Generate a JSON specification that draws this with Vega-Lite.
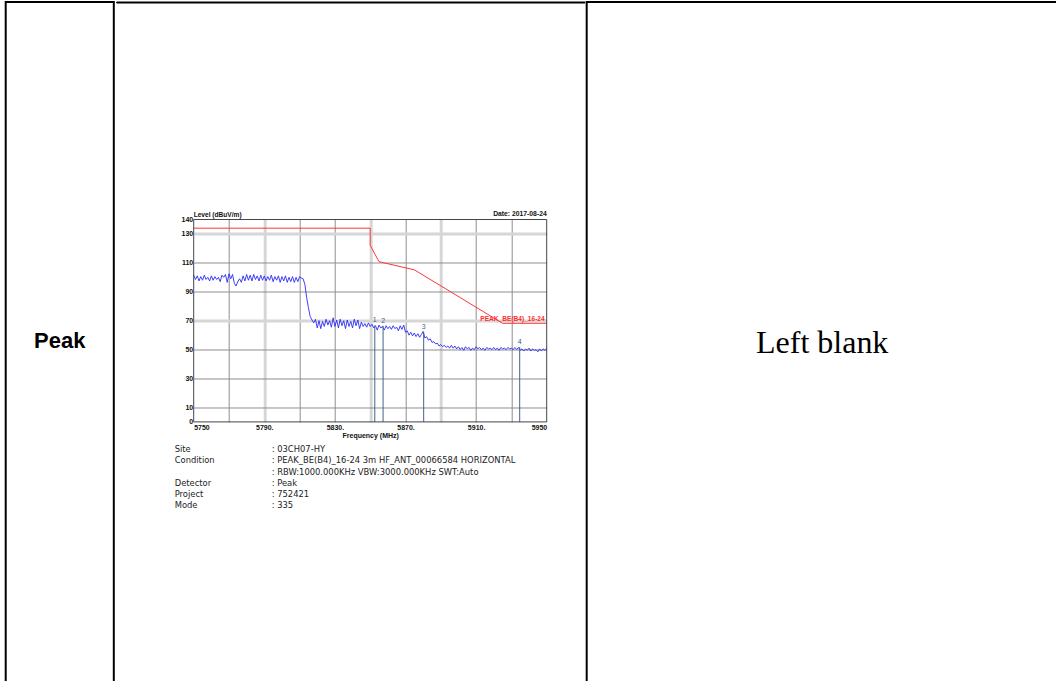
{
  "$schema": "https://vega.github.io/schema/vega-lite/v6.json",
  "padding": {"left": 4.7, "top": 1, "right": 0, "bottom": 0},
  "background": "white",
  "spacing": 0,
  "config": {
    "view": {"stroke": null},
    "concat": {"spacing": 0}
  },
  "datasets": {
    "trace": [
      {"f":5750,"l":101.5},{"f":5751,"l":98.5},{"f":5752,"l":101},{"f":5753,"l":97.5},{"f":5754,"l":100.5},{"f":5755,"l":98},{"f":5756,"l":101.5},{"f":5757,"l":98.5},{"f":5758,"l":100},{"f":5759,"l":97.5},
      {"f":5760,"l":101},{"f":5761,"l":98},{"f":5762,"l":100.5},{"f":5763,"l":98.5},{"f":5764,"l":100},{"f":5765,"l":97},{"f":5766,"l":101.5},{"f":5767,"l":100},{"f":5768,"l":102},{"f":5769,"l":96.5},
      {"f":5770,"l":102.5},{"f":5771,"l":99},{"f":5772,"l":102},{"f":5773,"l":96},{"f":5774,"l":94},{"f":5775,"l":97},{"f":5776,"l":99},{"f":5777,"l":96.5},{"f":5778,"l":101},{"f":5779,"l":97.5},
      {"f":5780,"l":102},{"f":5781,"l":98},{"f":5782,"l":101.5},{"f":5783,"l":97.5},{"f":5784,"l":102},{"f":5785,"l":98.5},{"f":5786,"l":101},{"f":5787,"l":97.5},{"f":5788,"l":101.5},{"f":5789,"l":98},
      {"f":5790,"l":101},{"f":5791,"l":97.5},{"f":5792,"l":100.5},{"f":5793,"l":98},{"f":5794,"l":101.5},{"f":5795,"l":97},{"f":5796,"l":100.5},{"f":5797,"l":98},{"f":5798,"l":101},{"f":5799,"l":96.5},
      {"f":5800,"l":100.5},{"f":5801,"l":97.5},{"f":5802,"l":101},{"f":5803,"l":96.5},{"f":5804,"l":100},{"f":5805,"l":97},{"f":5806,"l":100.5},{"f":5807,"l":96.5},{"f":5808,"l":100},{"f":5809,"l":97},
      {"f":5810,"l":100.5},{"f":5811,"l":99.5},{"f":5812,"l":99},{"f":5813,"l":95},{"f":5814,"l":86},{"f":5815,"l":79},{"f":5816,"l":73},{"f":5817,"l":70.5},{"f":5818,"l":68.5},{"f":5819,"l":71},
      {"f":5820,"l":65},{"f":5821,"l":70},{"f":5822,"l":64.5},{"f":5823,"l":69.5},{"f":5824,"l":66},{"f":5825,"l":71},{"f":5826,"l":67},{"f":5827,"l":70},{"f":5828,"l":65.5},{"f":5829,"l":72},
      {"f":5830,"l":66},{"f":5831,"l":70.5},{"f":5832,"l":65},{"f":5833,"l":71},{"f":5834,"l":66.5},{"f":5835,"l":70},{"f":5836,"l":64.5},{"f":5837,"l":70.5},{"f":5838,"l":66},{"f":5839,"l":69.5},
      {"f":5840,"l":65},{"f":5841,"l":71},{"f":5842,"l":66.5},{"f":5843,"l":70.5},{"f":5844,"l":64.5},{"f":5845,"l":69},{"f":5846,"l":66},{"f":5847,"l":68},{"f":5848,"l":65.5},{"f":5849,"l":68.5},
      {"f":5850,"l":66},{"f":5851,"l":67.5},{"f":5852,"l":65},{"f":5853,"l":66.5},{"f":5854,"l":63.5},{"f":5855,"l":67},{"f":5856,"l":65},{"f":5857,"l":66},{"f":5858,"l":63.5},{"f":5859,"l":66.5},
      {"f":5860,"l":64.5},{"f":5861,"l":66},{"f":5862,"l":64},{"f":5863,"l":66.5},{"f":5864,"l":64.5},{"f":5865,"l":65.5},{"f":5866,"l":63},{"f":5867,"l":66.5},{"f":5868,"l":64},{"f":5869,"l":67},
      {"f":5870,"l":62},{"f":5871,"l":63},{"f":5872,"l":60},{"f":5873,"l":62},{"f":5874,"l":59.5},{"f":5875,"l":61.5},{"f":5876,"l":59},{"f":5877,"l":61},{"f":5878,"l":58.5},{"f":5879,"l":60.5},
      {"f":5880,"l":62.5},{"f":5881,"l":58},{"f":5882,"l":59},{"f":5883,"l":56.5},{"f":5884,"l":57.5},{"f":5885,"l":55},{"f":5886,"l":55.5},{"f":5887,"l":54},{"f":5888,"l":54.5},{"f":5889,"l":52.5},
      {"f":5890,"l":53.5},{"f":5891,"l":52},{"f":5892,"l":53},{"f":5893,"l":51.5},{"f":5894,"l":52.5},{"f":5895,"l":51},{"f":5896,"l":53},{"f":5897,"l":51},{"f":5898,"l":52.5},{"f":5899,"l":50.5},
      {"f":5900,"l":52},{"f":5901,"l":50},{"f":5902,"l":51.5},{"f":5903,"l":49.5},{"f":5904,"l":52},{"f":5905,"l":50.5},{"f":5906,"l":51.5},{"f":5907,"l":49.5},{"f":5908,"l":51},{"f":5909,"l":50},
      {"f":5910,"l":52},{"f":5911,"l":50.5},{"f":5912,"l":51.5},{"f":5913,"l":50},{"f":5914,"l":51},{"f":5915,"l":49.5},{"f":5916,"l":51.5},{"f":5917,"l":50.5},{"f":5918,"l":51},{"f":5919,"l":50},
      {"f":5920,"l":51.5},{"f":5921,"l":50},{"f":5922,"l":51},{"f":5923,"l":49.5},{"f":5924,"l":51.5},{"f":5925,"l":50.5},{"f":5926,"l":51},{"f":5927,"l":50},{"f":5928,"l":51.5},{"f":5929,"l":50.5},
      {"f":5930,"l":51},{"f":5931,"l":50},{"f":5932,"l":51.5},{"f":5933,"l":50},{"f":5934,"l":51.5},{"f":5935,"l":49.5},{"f":5936,"l":50.5},{"f":5937,"l":49},{"f":5938,"l":50.5},{"f":5939,"l":49.5},
      {"f":5940,"l":51},{"f":5941,"l":49},{"f":5942,"l":50.5},{"f":5943,"l":49.5},{"f":5944,"l":50},{"f":5945,"l":48.5},{"f":5946,"l":50.5},{"f":5947,"l":49},{"f":5948,"l":50.5},{"f":5949,"l":49.5},
      {"f":5950,"l":51}
    ],
    "limit": [
      {"pt":1,"f":5750,"l":134},{"pt":2,"f":5850,"l":134},{"pt":3,"f":5850,"l":122.2},{"pt":4,"f":5855,"l":110.8},{"pt":5,"f":5875,"l":105.2},{"pt":6,"f":5925,"l":68.2},{"pt":7,"f":5950,"l":68.2,"name":"PEAK_BE(B4)_16-24"}
    ],
    "markers": [
      {"m":"1","f":5852.6,"l":66.8},{"m":"2","f":5857.3,"l":66.5},{"m":"3","f":5880.3,"l":62.3},{"m":"4","f":5934.7,"l":51.8}
    ],
    "info": [
      {"line":1,"label":"Site","value":": 03CH07-HY"},
      {"line":2,"label":"Condition","value":": PEAK_BE(B4)_16-24 3m HF_ANT_00066584 HORIZONTAL"},
      {"line":3,"label":"","value":": RBW:1000.000KHz VBW:3000.000KHz SWT:Auto"},
      {"line":4,"label":"Detector","value":": Peak"},
      {"line":5,"label":"Project","value":": 752421"},
      {"line":6,"label":"Mode","value":": 335"}
    ]
  },
  "hconcat": [
    {
      "width": 108.1,
      "height": 690,
      "data": {"values": [{"t": "Peak"}]},
      "layer": [
        {
          "mark": {"type": "rect", "fillOpacity": 0, "stroke": "black", "strokeWidth": 2},
          "encoding": {}
        },
        {
          "mark": {"type": "text", "font": "Liberation Sans", "fontWeight": "bold", "fontSize": 22, "baseline": "alphabetic", "dy": 1, "color": "black"},
          "encoding": {"text": {"field": "t", "type": "nominal"}}
        }
      ]
    },
    {
      "spacing": 206.5,
      "vconcat": [
        {
          "width": 468.2,
          "height": 1,
          "data": {"values": [{}]},
          "mark": {"type": "rect", "fill": "black", "stroke": "black", "strokeWidth": 1},
          "encoding": {}
        },
        {
          "spacing": 5.7,
          "vconcat": [
            {
              "spacing": 0,
              "hconcat": [
                {
                  "width": 63.3,
                  "height": 1,
                  "data": {"values": []},
                  "mark": {"type": "text"},
                  "encoding": {"text": {"value": ""}}
                },
                {
                  "width": 353,
                  "height": 202.4,
                  "layer": [
                    {
                      "data": {"name": "trace"},
                      "mark": {"type": "line", "color": "#2b2bf5", "strokeWidth": 0.9, "interpolate": "linear"},
                      "encoding": {
                        "x": {
                          "field": "f", "type": "quantitative",
                          "scale": {"domain": [5750, 5950], "nice": false, "zero": false},
                          "axis": {
                            "values": [5750,5770,5790,5810,5830,5850,5870,5890,5910,5930,5950],
                            "tickCount": 40,
                            "labelExpr": "(datum.value - 5750) % 40 == 0 ? ((datum.value == 5750 || datum.value == 5950) ? '' + datum.value : datum.value + '.') : ''",
                            "labelFlush": true,
                            "labelOverlap": false,
                            "labelFont": "Liberation Sans",
                            "labelFontWeight": "bold",
                            "labelFontSize": 7,
                            "labelColor": "#111111",
                            "labelPadding": 2,
                            "ticks": false,
                            "tickSize": 0,
                            "domain": false,
                            "grid": true,
                            "gridColor": {"condition": {"test": "datum.value == 5790 || datum.value == 5850 || datum.value == 5890", "value": "#d6d6d6"}, "value": "#8e8e8e"},
                            "gridWidth": {"condition": {"test": "datum.value == 5790 || datum.value == 5850 || datum.value == 5890", "value": 3}, "value": 1},
                            "gridOpacity": {"condition": {"test": "datum.value == 5750 || datum.value == 5950", "value": 0}, "value": 1},
                            "title": "Frequency (MHz)",
                            "titleFont": "Liberation Sans",
                            "titleFontWeight": "bold",
                            "titleFontSize": 7,
                            "titleColor": "#111111",
                            "titlePadding": 1
                          }
                        },
                        "y": {
                          "field": "l", "type": "quantitative",
                          "scale": {"domain": [0, 140], "nice": false, "zero": true},
                          "axis": {
                            "values": [0,10,30,50,70,90,110,130,140],
                            "tickCount": 40,
                            "labelFont": "Liberation Sans",
                            "labelFontWeight": "bold",
                            "labelFontSize": 7,
                            "labelColor": "#111111",
                            "labelPadding": 1,
                            "labelOverlap": false,
                            "ticks": false,
                            "tickSize": 0,
                            "domain": false,
                            "grid": true,
                            "gridColor": {"condition": {"test": "datum.value == 130 || datum.value == 70", "value": "#d6d6d6"}, "value": "#8e8e8e"},
                            "gridWidth": {"condition": {"test": "datum.value == 130 || datum.value == 70", "value": 3}, "value": 1},
                            "gridOpacity": {"condition": {"test": "datum.value == 0 || datum.value == 140", "value": 0}, "value": 1},
                            "title": null
                          }
                        }
                      }
                    },
                    {
                      "data": {"name": "limit"},
                      "mark": {"type": "line", "color": "#ff3535", "strokeWidth": 1},
                      "encoding": {
                        "x": {"field": "f", "type": "quantitative"},
                        "y": {"field": "l", "type": "quantitative"},
                        "order": {"field": "pt", "type": "quantitative"}
                      }
                    },
                    {
                      "data": {"name": "limit"},
                      "transform": [{"filter": "isValid(datum.name)"}],
                      "mark": {"type": "text", "align": "right", "baseline": "bottom", "dx": -2, "dy": -1, "font": "Liberation Sans", "fontWeight": "bold", "fontSize": 6.6, "color": "#ff2a2a"},
                      "encoding": {
                        "x": {"field": "f", "type": "quantitative"},
                        "y": {"field": "l", "type": "quantitative"},
                        "text": {"field": "name", "type": "nominal"}
                      }
                    },
                    {
                      "data": {"name": "markers"},
                      "mark": {"type": "rule", "color": "#41638a", "strokeWidth": 1},
                      "encoding": {
                        "x": {"field": "f", "type": "quantitative"},
                        "y": {"field": "l", "type": "quantitative"},
                        "y2": {"datum": 0}
                      }
                    },
                    {
                      "data": {"name": "markers"},
                      "mark": {"type": "text", "align": "center", "baseline": "bottom", "dy": -2, "font": "Liberation Sans", "fontSize": 7, "color": "#3d5f8c"},
                      "encoding": {
                        "x": {"field": "f", "type": "quantitative"},
                        "y": {"field": "l", "type": "quantitative"},
                        "text": {"field": "m", "type": "nominal"}
                      }
                    },
                    {
                      "data": {"values": [{"t": "Level (dBuV/m)"}]},
                      "mark": {"type": "text", "align": "left", "baseline": "bottom", "dy": -2, "font": "Liberation Sans", "fontWeight": "bold", "fontSize": 6.6, "color": "#111111"},
                      "encoding": {
                        "x": {"datum": 5750, "type": "quantitative"},
                        "y": {"datum": 140, "type": "quantitative"},
                        "text": {"field": "t", "type": "nominal"}
                      }
                    },
                    {
                      "data": {"values": [{"t": "Date: 2017-08-24"}]},
                      "mark": {"type": "text", "align": "right", "baseline": "bottom", "dy": -2.5, "font": "Liberation Sans", "fontWeight": "bold", "fontSize": 6.8, "color": "#111111"},
                      "encoding": {
                        "x": {"datum": 5950, "type": "quantitative"},
                        "y": {"datum": 140, "type": "quantitative"},
                        "text": {"field": "t", "type": "nominal"}
                      }
                    },
                    {
                      "data": {"values": [{}]},
                      "mark": {"type": "rect", "fillOpacity": 0, "stroke": "#444444", "strokeWidth": 1},
                      "encoding": {
                        "x": {"datum": 5750, "type": "quantitative"},
                        "x2": {"datum": 5950},
                        "y": {"datum": 0, "type": "quantitative"},
                        "y2": {"datum": 140}
                      }
                    }
                  ]
                }
              ]
            },
            {
              "spacing": 0,
              "hconcat": [
                {
                  "width": 57.7,
                  "height": 1,
                  "data": {"values": []},
                  "mark": {"type": "text"},
                  "encoding": {"text": {"value": ""}}
                },
                {
                  "width": 97,
                  "height": 56,
                  "data": {"name": "info"},
                  "transform": [{"fold": ["label", "value"], "as": ["col", "txt"]}],
                  "mark": {"type": "text", "align": "left", "baseline": "middle", "font": "DejaVu Sans", "fontSize": 8.4, "color": "#222222"},
                  "encoding": {
                    "x": {"field": "col", "type": "nominal", "scale": {"type": "point", "domain": ["label", "value"], "padding": 0}, "axis": null},
                    "y": {"field": "line", "type": "ordinal", "scale": {"type": "point", "padding": 0}, "axis": null},
                    "text": {"field": "txt", "type": "nominal"}
                  }
                }
              ]
            }
          ]
        }
      ]
    },
    {
      "width": 471,
      "height": 690,
      "data": {"values": [{"t": "Left blank"}]},
      "layer": [
        {
          "mark": {"type": "rect", "fillOpacity": 0, "stroke": "black", "strokeWidth": 2},
          "encoding": {}
        },
        {
          "mark": {"type": "text", "font": "Liberation Serif", "fontSize": 32, "baseline": "alphabetic", "dy": 5.7, "color": "black"},
          "encoding": {"text": {"field": "t", "type": "nominal"}}
        }
      ]
    }
  ]
}
